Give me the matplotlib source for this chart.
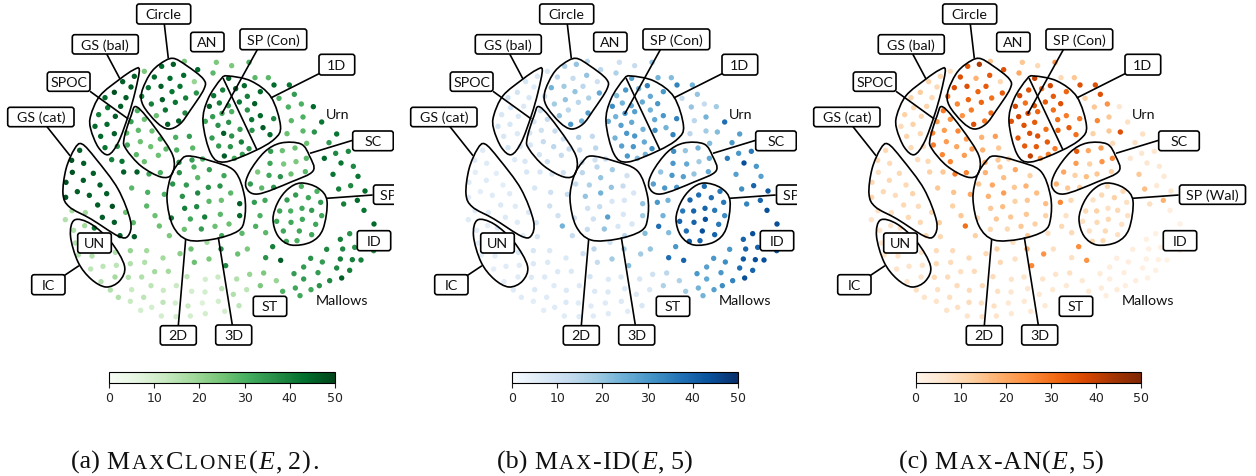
import numpy as np
import matplotlib
matplotlib.use("Agg")
import matplotlib.pyplot as plt
from matplotlib.patches import FancyBboxPatch, PathPatch
from matplotlib.path import Path
from matplotlib.cm import ScalarMappable
from matplotlib.colors import Normalize
from matplotlib.font_manager import FontProperties

W, H = 1256, 477

# Every election: (map x, map y, MaxClone, Max-ID, Max-AN); map units are a third of a pixel of panel (a)
GS_BAL = [(403,232,46,7,10),(368,248,46,8,11),(393,264,46,6,10),(343,280,48,9,13),(315,296,44,10,11),(378,296,46,8,10),(362,322,46,7,11),(323,326,42,8,10),(296,347,40,8,12),(346,352,46,8,10),(285,382,44,9,9),(321,376,44,8,12),(302,412,44,8,11),(343,404,46,7,10),(315,446,42,9,10),(352,442,36,8,9)]
SPOC = [(412,335,30,10,28),(433,361,26,12,24),(393,368,34,8,22),(456,396,26,12,26),(415,394,28,10,22),(380,402,28,9,26),(481,420,30,10,22),(421,428,26,12,22),(382,438,32,8,28),(452,443,26,14,20),(498,450,28,12,22),(409,467,28,9,26),(475,469,26,12,22),(433,488,26,10,26),(481,521,30,10,26),(447,525,32,8,28)]
MIDDLE = [(335,482,40,7,9),(366,487,42,8,10),(371,519,46,8,12),(411,519,46,8,14),(527,415,30,15,18),(568,412,34,13,22),(578,447,28,14,14),(530,453,30,12,18),(576,483,34,10,14),(537,490,38,10,20),(582,504,30,14,14),(608,480,30,12,12),(553,187,24,14,14),(593,212,44,14,36),(433,217,24,8,8)]
CIRCLE = [(485,202,44,16,34),(520,196,46,20,42),(463,234,44,14,36),(510,238,44,12,18),(551,229,44,20,34),(445,266,42,24,36),(483,262,46,18,36),(540,262,42,14,34),(583,248,20,10,10),(589,282,36,26,34),(425,292,40,12,30),(516,278,42,20,32),(557,297,40,16,30),(487,302,46,20,32),(454,315,40,18,26),(526,310,42,14,32),(496,333,42,14,28),(469,350,26,20,24),(555,342,38,28,30),(536,366,46,24,28),(503,376,46,30,36)]
ONE_D_SP = [(686,238,46,28,40),(733,260,44,34,38),(707,269,46,24,30),(668,273,40,30,36),(781,278,44,30,32),(641,290,42,22,38),(742,292,40,26,34),(718,309,42,26,34),(764,314,46,30,36),(658,312,40,24,30),(628,322,46,32,38),(685,320,34,26,36),(742,333,36,24,30),(695,338,30,28,32),(666,343,32,30,38),(781,350,44,30,28),(638,353,34,24,38),(755,362,42,26,30),(821,359,38,34,28),(654,379,36,28,36),(686,370,36,26,34),(616,367,32,26,36),(756,394,36,32,32),(789,386,46,24,34),(720,391,34,24,30),(810,407,44,34,30),(671,403,46,30,36),(695,411,36,30,36),(636,417,34,24,34),(724,429,40,26,34),(656,441,34,28,34),(691,443,36,30,34),(747,449,36,32,28),(673,471,46,30,40),(727,466,34,24,28),(703,478,32,22,24)]
URN = [(649,190,24,10,14),(695,200,24,12,10),(747,190,30,20,24),(639,222,28,16,20),(765,236,28,24,10),(805,236,28,22,14),(822,258,44,34,36),(868,258,42,24,36),(883,286,34,20,36),(837,298,30,12,12),(865,324,30,20,14),(904,315,30,12,24),(940,323,44,18,6),(909,354,30,24,14),(874,365,28,14,26),(965,369,42,38,8),(943,399,36,22,36),(909,396,28,18,14),(861,404,26,14,12),(1010,405,42,28,8),(920,433,26,22,10),(987,431,34,30,8),(1045,457,38,36,6),(1007,463,38,30,6),(973,478,44,36,6),(1023,492,42,44,6),(1060,502,38,30,5),(999,526,42,28,14),(1074,532,42,28,5)]
SC = [(812,457,34,32,34),(847,455,26,20,20),(885,447,26,24,22),(919,478,28,26,26),(810,493,32,30,22),(851,495,24,26,12),(888,488,24,18,24),(773,519,24,20,20),(916,518,28,26,12),(807,529,32,30,12),(841,533,36,28,16),(873,525,26,20,14),(751,555,34,28,18),(785,567,28,30,14),(821,565,36,30,12)]
SP_WAL = [(904,562,30,38,10),(951,577,30,36,10),(887,588,34,38,10),(925,596,32,38,12),(861,603,34,40,8),(962,610,34,36,8),(839,636,32,36,10),(872,636,30,40,12),(906,628,32,40,8),(935,634,34,36,10),(965,650,32,32,8),(830,667,32,40,8),(873,670,32,40,10),(907,661,32,44,10),(947,676,32,36,8),(850,696,32,38,8),(898,696,32,44,10),(935,707,32,40,8),(859,727,32,42,10),(891,725,30,40,10)]
MALLOWS = [(1016,570,40,32,16),(1052,560,38,40,5),(1095,576,44,42,6),(1072,604,44,40,18),(1031,615,40,34,8),(1092,634,42,44,3),(1122,675,44,44,2),(1049,704,36,44,2),(1021,721,40,40,2),(980,751,38,30,3),(1028,750,38,40,2),(1064,745,36,40,2),(1121,755,36,42,1),(1021,780,40,42,2),(1057,782,40,44,2),(1083,783,40,44,1),(932,778,36,30,3),(967,789,34,32,3),(911,804,34,28,3),(1010,807,38,38,2),(1049,814,40,40,2),(882,824,34,30,4),(954,821,34,30,3),(1025,837,46,44,2),(911,840,34,26,3),(989,845,38,34,3),(886,867,32,24,4),(958,860,36,32,3),(933,872,32,28,4),(900,890,32,24,3),(848,877,30,18,5)]
CENTER = [(763,610,34,30,26),(795,604,32,24,10),(780,650,30,24,8),(767,682,30,38,10),(797,701,28,22,10),(726,703,28,22,8),(818,743,40,30,25),(742,750,24,20,8),(713,765,26,18,24),(797,776,36,38,8),(842,784,46,40,24),(663,750,38,18,20),(677,800,38,22,26),(627,780,24,18,8),(621,730,18,10,8),(791,822,24,14,8),(749,826,20,10,7),(710,840,16,8,7),(654,834,12,7,7),(616,841,10,7,7),(829,845,20,16,5),(781,860,24,16,5),(740,872,14,8,5),(665,869,14,7,6),(615,879,10,7,6),(700,886,16,7,5),(607,912,8,6,5),(655,907,10,7,5),(717,920,14,8,5),(674,937,10,6,5),(616,944,10,6,5)]
TWO_THREE_D = [(538,521,36,14,18),(518,555,36,12,14),(559,558,34,16,20),(593,536,28,20,16),(547,592,36,20,18),(593,582,38,24,22),(625,565,36,20,14),(660,561,36,12,18),(672,530,32,10,12),(628,512,34,18,20),(692,582,28,8,16),(590,623,38,12,16),(554,628,40,10,14),(627,607,28,8,12),(664,604,26,8,14),(719,614,46,20,16),(719,650,44,18,12),(514,657,42,10,10),(571,660,32,10,14),(614,654,40,28,14),(661,646,28,8,14),(645,682,26,8,14),(687,675,26,8,12),(553,691,26,12,10),(604,690,34,20,10),(665,710,32,14,14)]
GS_CAT = [(239,454,46,6,10),(215,484,48,6,10),(251,493,46,6,9),(280,523,46,5,10),(217,520,48,5,8),(198,550,48,6,10),(250,544,46,6,10),(300,558,46,5,10),(232,578,46,5,10),(268,589,46,6,9),(320,584,46,6,11),(197,595,48,6,11),(293,618,46,7,10),(337,622,48,6,9),(307,655,46,7,10),(343,670,46,6,10),(360,710,46,5,10),(403,713,46,8,10)]
LOWER_LEFT = [(395,567,28,8,14),(443,580,30,10,15),(493,586,30,12,20),(440,621,28,10,12),(465,650,26,10,14),(478,681,26,24,30),(508,710,24,12,12),(377,640,26,8,10),(400,671,28,8,13),(216,635,18,6,8),(256,641,18,6,8),(196,662,16,6,7),(254,680,18,5,7),(221,694,16,5,7),(283,687,42,7,8),(226,732,16,5,7),(235,768,16,5,7),(276,771,16,5,7),(346,760,16,8,7),(391,755,20,8,9),(440,755,18,7,9),(489,777,18,7,10),(540,764,22,10,10),(573,750,26,14,12),(583,790,26,12,10),(272,810,14,5,7),(309,802,14,6,7),(349,799,14,6,7),(391,794,16,7,10),(434,790,16,7,9),(464,818,18,7,8),(505,817,18,7,9),(345,834,18,6,7),(385,835,16,7,10),(425,834,16,7,9),(561,833,14,9,9),(303,848,16,5,7),(453,860,14,6,9),(529,860,12,7,9),(331,873,16,6,8),(395,872,12,7,8),(490,874,12,7,9),(575,877,10,7,8),(355,895,16,6,7),(431,895,14,6,8),(391,907,12,5,7),(489,910,14,7,9),(526,912,10,6,8),(564,921,12,6,8),(455,925,10,6,8),(422,934,10,5,7),(484,951,10,6,7),(528,953,10,6,7),(571,951,10,6,7)]

GROUPS = [GS_BAL, SPOC, MIDDLE, CIRCLE, ONE_D_SP, URN, SC, SP_WAL, MALLOWS, CENTER, TWO_THREE_D, GS_CAT, LOWER_LEFT]

# Label boxes: text, left, right, top, bottom (pixels of panel a)
BOXES = [("Circle",136.7,190.7,5,25),("GS (bal)",72.3,138.3,35.7,55),("SPOC",47.3,90,73,92.3),("GS (cat)",7.7,74,108.3,127.7),
         ("AN",190.7,224,33.3,52.7),("SP (Con)",240,306.7,30,50.7),("1D",319,354.7,55.3,76),("SC",352.7,393.3,132,151.7),
         ("SP (Wal)",373.5,439.5,186,205.3),("ID",357.3,390.7,231.7,251.7),("ST",253.3,286.7,297.3,317.3),("3D",215.7,251.7,326,346),
         ("2D",160.3,196.3,326.7,346),("IC",31.7,65,275.7,295.7),("UN",77.7,111.3,234,254)]
CONNECTORS = [((164.3,25),(168.3,59.3)),((106.7,55),(120,80)),((90,92.3),(128.3,120)),((47,127.7),(70,156.7)),
              ((257.3,50.7),(221.7,115)),((319,74.7),(270.7,99)),((352.7,141.3),(310,154.3)),((372.7,196),(326.7,199.3)),
              ((64,276.7),(79,266.7)),((178.3,326.7),(185.7,240)),((232.3,326),(218.3,238.3)),((223,79),(257,151))]
REGIONS = [
    [(172.7,59.3),(186.7,66.7),(203.3,80),(204,90),(190,111.7),(180,125),(168.3,130),(156.7,123.3),(143.3,106.7),(141.7,93.3),(150,75),(160,65)],
    [(139.3,70.7),(135,93.3),(128.3,116.7),(118.3,143.3),(108.3,155.7),(98.3,148.3),(90.7,130),(90.7,116.7),(100,96.7),(120,80),(133.3,71)],
    [(137,108),(156,130),(173,157),(172,175),(161,178),(141,167),(126,150),(124,140),(131,117)],
    [(82,145),(96,160),(118,190),(130.5,222),(128,237),(118,237),(91,220),(69.5,208),(63,195),(66,170),(74.5,150)],
    [(74.5,221),(91,225),(111,243),(124.5,267),(119.5,282),(106,288),(91,280),(78,263),(70.5,237)],
    [(228,77),(251,82),(271,98),(280.5,127),(274.5,140),(254.5,152),(224.5,163),(211,155),(203,123),(208,100),(221,80)],
    [(188,157),(211,162),(234.5,172),(244.5,197),(244.5,220),(238,232),(214.5,240),(188,241),(173,227),(167,200),(171,177),(179.5,163)],
    [(281,144),(301,145),(309.5,157),(313,172),(291,183),(258,195),(246,188),(249.5,173),(264.5,153)],
    [(301,184),(318,189),(327,202),(323,230),(311,243),(291,246),(278,237),(273,220),(278,203),(288,190)],
]
FREE_TEXT = [("Urn",337.3,115),("Mallows",342.3,300.7)]
CBAR_TICKS = [0,10,20,30,40,50]

# Panels: left px, right px, colormap, column, colorbar left px
PANELS = [(0,394,"Greens",2,109.3),(403,797,"Blues",3,512.3),(806,1256,"Oranges",4,915.5)]
# Caption runs: text, style, size scale, extra pixels after each letter
CAPTIONS = [
    (71,[("(a) ","n",1,0),("M","n",1,1.8),("AX","n",.82,1.8),("C","n",1,1.8),("LONE","n",.82,1.8),("(","n",1,1.5),("E","i",1,1.2),(",","n",1,6),("2","n",1,0),(")","n",1,2),(".","n",1,0)]),
    (497,[("(b) ","n",1,0),("M","n",1,1.8),("AX","n",.82,1.8),("-ID","n",1,.5),("(","n",1,1.5),("E","i",1,1.2),(",","n",1,6),("5","n",1,0),(")","n",1,0)]),
    (899,[("(c) ","n",1,0),("M","n",1,1.8),("AX","n",.82,1.8),("-AN","n",1,.5),("(","n",1,1.5),("E","i",1,1.2),(",","n",1,6),("5","n",1,0),(")","n",1,0)]),
]

LABEL_FONT = "Lato"
LABEL_SIZE = 10.3
LW = 1.2
CAP_SIZE = 18.7
CAP_BASE = 469

def smooth_closed(pts):
    p = np.array(pts, float)
    n = len(p)
    verts = [p[0]]
    codes = [Path.MOVETO]
    for i in range(n):
        p0, p1, p2, p3 = p[(i-1) % n], p[i], p[(i+1) % n], p[(i+2) % n]
        verts += [p1 + (p2-p0)/6, p2 - (p3-p1)/6, p2]
        codes += [Path.CURVE4]*3
    return Path(verts, codes)

fig = plt.figure(figsize=(W/100, H/100), dpi=100)
data = np.array([pt for g in GROUPS for pt in g], float)
map_x, map_y = data[:,0]/3, data[:,1]/3

for left, right, cmap, col, cb_left in PANELS:
    ax = fig.add_axes([left/W, 0, (right-left)/W, 1])
    ax.set_xlim(0, right-left)
    ax.set_ylim(H, 0)
    ax.axis("off")
    ax.scatter(map_x, map_y, c=data[:,col], cmap=cmap, vmin=0, vmax=50, s=15, linewidths=0, zorder=1)
    for reg in REGIONS:
        ax.add_patch(PathPatch(smooth_closed(reg), fill=False, ec="black", lw=LW, zorder=2))
    for a, b in CONNECTORS:
        ax.plot([a[0], b[0]], [a[1], b[1]], color="black", lw=LW, zorder=2, solid_capstyle="butt")
    for t, x0, x1, y0, y1 in BOXES:
        ax.add_patch(FancyBboxPatch((x0, y0), x1-x0, y1-y0, boxstyle="round,pad=0,rounding_size=2.5",
                                    fc="white", ec="black", lw=LW, zorder=3))
        ax.text((x0+x1)/2, (y0+y1)/2, t, ha="center", va="center", family=LABEL_FONT, fontsize=LABEL_SIZE,
                color="#111111", zorder=4, clip_on=True)
    for t, x, y in FREE_TEXT:
        ax.text(x, y, t, ha="center", va="center", family=LABEL_FONT, fontsize=LABEL_SIZE, color="#111111", zorder=4)
    cax = fig.add_axes([cb_left/W, 1-384/H, 225.4/W, 11/H])
    cb = fig.colorbar(ScalarMappable(Normalize(0, 50), cmap=cmap), cax=cax, orientation="horizontal", ticks=CBAR_TICKS)
    cb.ax.tick_params(labelsize=9, length=3.5, width=0.8, pad=2.5, colors="#222222")
    cb.outline.set_linewidth(0.8)

over = fig.add_axes([0, 0, 1, 1])
over.set_xlim(0, W)
over.set_ylim(H, 0)
over.axis("off")
over.patch.set_alpha(0)
renderer = fig.canvas.get_renderer()

def advance(s, prop):
    w1 = renderer.get_text_width_height_descent("|"+s+"|", prop, False)[0]
    w0 = renderer.get_text_width_height_descent("||", prop, False)[0]
    return w1 - w0

for x, runs in CAPTIONS:
    for s, style, scale, track in runs:
        prop = FontProperties(family="Liberation Serif", style="italic" if style == "i" else "normal", size=CAP_SIZE*scale)
        pieces = list(s) if track else [s]
        for piece in pieces:
            over.text(x, CAP_BASE, piece, fontproperties=prop, ha="left", va="baseline", color="#111111")
            x += advance(piece, prop) + track

fig.savefig("out.png", dpi=100)
